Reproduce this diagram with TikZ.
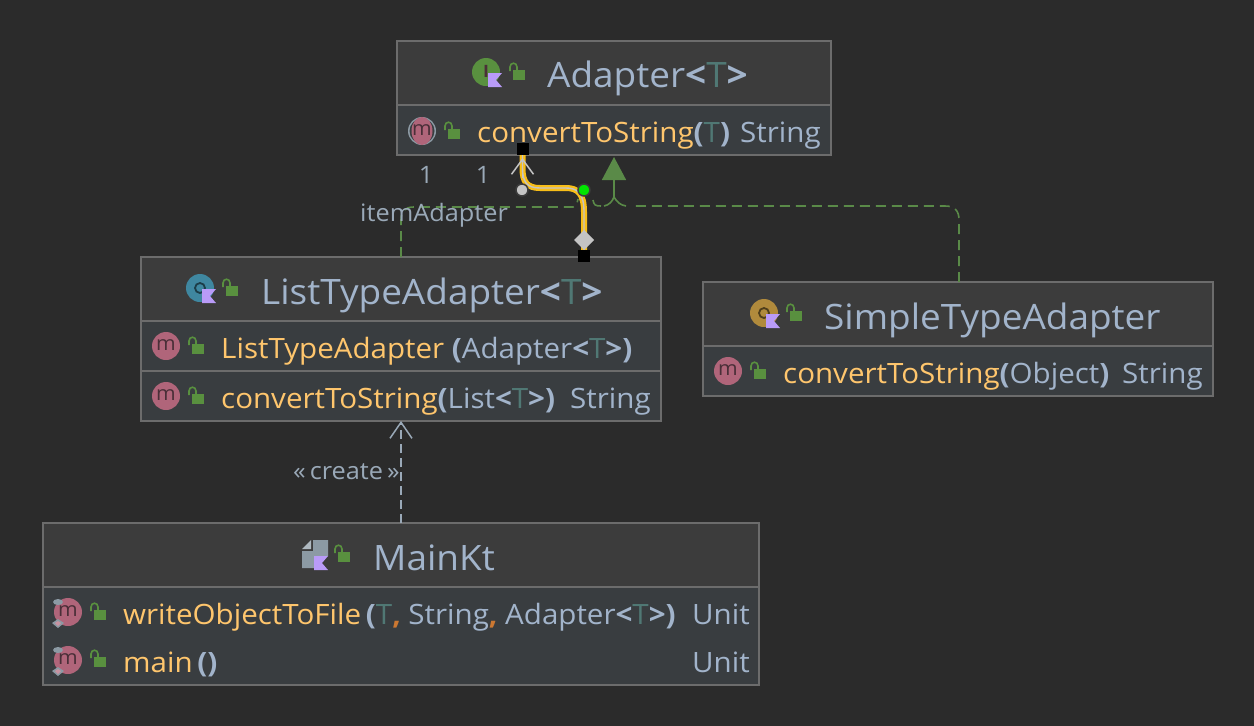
\documentclass[tikz,border=0pt]{standalone}
\usepackage{fontspec}
\setmainfont[FakeStretch=1.055]{Open Sans}
\usetikzlibrary{arrows.meta,positioning}
\definecolor{CanvasGray}{HTML}{2B2B2B}
\definecolor{HeadGray}{HTML}{3C3C3C}
\definecolor{RowGray}{HTML}{393D40}
\definecolor{EdgeGray}{HTML}{6C6C6C}
\definecolor{TitleBlue}{HTML}{A2B4CB}
\definecolor{MethodYellow}{HTML}{FFC66D}
\definecolor{ParamTeal}{HTML}{507874}
\definecolor{CommaOrange}{HTML}{CC7832}
\definecolor{LockGreen}{HTML}{59903F}
\definecolor{ImplGreen}{HTML}{5A8A48}
\definecolor{FlagPurple}{HTML}{B99BF8}
\definecolor{MethodPink}{HTML}{B0657A}
\definecolor{MarkDark}{HTML}{4A2F38}
\definecolor{WingGray}{HTML}{8C9AA4}
\definecolor{ClassBlue}{HTML}{3F87A0}
\definecolor{AbstractGold}{HTML}{B08A3C}
\definecolor{HiYellow}{HTML}{F8BE18}
\definecolor{CoreGray}{HTML}{C4C4C4}
\definecolor{LabelGray}{HTML}{9AA9B8}
\newcommand{\mth}[1]{{\color{MethodYellow}#1}}
\newcommand{\pun}[1]{{\bfseries\color{TitleBlue}#1}}
\newcommand{\tpar}{{\color{ParamTeal}T}}
\newcommand{\cma}{{\bfseries\color{CommaOrange},}}
\tikzset{
  headbox/.style={draw=EdgeGray,fill=HeadGray,line width=1.5pt,outer sep=0pt,inner sep=0pt},
  rowbox/.style={draw=EdgeGray,fill=RowGray,line width=1.5pt,outer sep=0pt,inner sep=0pt},
  titletext/.style={anchor=base west,inner sep=0pt,text=TitleBlue,font=\fontsize{35}{40}\selectfont},
  rowtext/.style={anchor=base west,inner sep=0pt,text=TitleBlue,font=\fontsize{28}{32}\selectfont},
  edgetext/.style={anchor=base west,inner sep=0pt,text=LabelGray,font=\fontsize{24}{28}\selectfont},
  implline/.style={ImplGreen,line width=1.6pt,dash pattern=on 10pt off 6pt},
  implcurve/.style={ImplGreen,line width=1.6pt},
  createline/.style={LabelGray,line width=1.5pt,dash pattern=on 9pt off 5pt,-{Straight Barb[length=16pt,width=22pt]}},
  assocline/.style={CoreGray,line width=1.4pt,preaction={draw=HiYellow,line width=6pt}},
  handlebox/.style={fill=black,minimum size=12pt,inner sep=0pt,outer sep=0pt},
  dotmark/.style={circle,draw=HeadGray,line width=1.5pt,minimum size=12pt,inner sep=0pt},
  pics/lockicon/.style={code={
    \fill[LockGreen] (0,0) rectangle (12,10);
    \draw[LockGreen,line width=1.6pt] (-3,1) -- (-3,-3) .. controls (-3,-8) and (4,-8) .. (4,-3) -- (4,0);
  }},
  pics/flagicon/.style={code={
    \fill[FlagPurple] (2,1) -- (16,1) -- (10,8) -- (16,15) -- (2,15) -- cycle;
  }},
  pics/classicon/.style={code={
    \fill[#1] (0,0) circle (14);
    \draw[#1!45!black,line width=1.8pt] (0,0) circle (5);
  }},
  pics/methodicon/.style={code={
    \fill[MethodPink] (0,0) circle (14);
    \node[text=MarkDark,inner sep=0pt,font=\fontsize{20}{20}\selectfont] (mark) at (0,-1) {m};
  }},
  pics/abstracticon/.style={code={
    \fill[WingGray] (0,0) circle (14);
    \fill[RowGray] (0,0) circle (12.5);
    \fill[MethodPink] (0,0) ellipse (10.5 and 14);
    \node[text=MarkDark,inner sep=0pt,font=\fontsize{20}{20}\selectfont] (mark) at (0,-1) {m};
  }},
  pics/staticicon/.style={code={
    \fill[MethodPink] (1,0) circle (14);
    \fill[WingGray] (-9,-10) ellipse (5 and 3);
    \fill[WingGray] (-9,7) -- (-3,11) -- (-9,16) -- (-15,11) -- cycle;
    \fill[MethodPink!70] (-9,9) -- (-6,11) -- (-9,14) -- (-12,11) -- cycle;
    \node[text=MarkDark,inner sep=0pt,font=\fontsize{20}{20}\selectfont] (mark) at (1,-1) {m};
  }},
}
\begin{document}
\begin{tikzpicture}[x=1pt,y=-1pt]
  \fill[CanvasGray] (0,0) rectangle (1254,726);
  \node[headbox,anchor=north west,minimum width=434pt,minimum height=64pt] (adapterHead) at (397,41) {};
  \node[rowbox,minimum width=434pt,minimum height=50pt,below=0pt of adapterHead] (adapterRow) {};
  \node[headbox,anchor=north west,minimum width=520pt,minimum height=64pt] (listHead) at (141,257) {};
  \node[rowbox,minimum width=520pt,minimum height=50pt,below=0pt of listHead] (listCtor) {};
  \node[rowbox,minimum width=520pt,minimum height=50pt,below=0pt of listCtor] (listRow) {};
  \node[headbox,anchor=north west,minimum width=510pt,minimum height=64pt] (simpleHead) at (703,282) {};
  \node[rowbox,minimum width=510pt,minimum height=50pt,below=0pt of simpleHead] (simpleRow) {};
  \node[headbox,anchor=north west,minimum width=716pt,minimum height=64pt] (mainHead) at (43,523) {};
  \node[rowbox,minimum width=716pt,minimum height=98pt,below=0pt of mainHead] (mainRow) {};

  \node[titletext] (adapterTitle) at (547,87) {Adapter\pun{<}\tpar\pun{>}};
  \node[rowtext] (adapterMethod) at (477,142) {\mth{convertToString}\pun{(}\tpar\pun{)}};
  \node[rowtext] (adapterType) at (740,142) {String};
  \node[titletext] (listTitle) at (261,304) {ListTypeAdapter\pun{<}\tpar\pun{>}};
  \node[rowtext] (listCtorText) at (221,358) {\mth{ListTypeAdapter} \pun{(}Adapter\pun{<}\tpar\pun{>}\pun{)}};
  \node[rowtext] (listMethod) at (221,408) {\mth{convertToString}\pun{(}List\pun{<}\tpar\pun{>}\pun{)}};
  \node[rowtext] (listType) at (570,408) {String};
  \node[titletext] (simpleTitle) at (824,329) {SimpleTypeAdapter};
  \node[rowtext] (simpleMethod) at (783,383) {\mth{convertToString}\pun{(}Object\pun{)}};
  \node[rowtext] (simpleType) at (1122,383) {String};
  \node[titletext] (mainTitle) at (373,570) {MainKt};
  \node[rowtext] (writeMethod) at (123,624) {\mth{writeObjectToFile}\,\pun{(}\tpar\cma{} String\cma{} Adapter\pun{<}\tpar\pun{>}\pun{)}};
  \node[rowtext] (writeType) at (692,624) {Unit};
  \node[rowtext] (mainMethod) at (123,672) {\mth{main}\,\pun{()}};
  \node[rowtext] (mainType) at (692,672) {Unit};

  \fill[LockGreen] (486,72) circle (14);
  \node[text=MarkDark,inner sep=0pt,font=\fontsize{17}{17}\bfseries\selectfont] (adapterMark) at (486,71) {I};
  \pic at (486,72) {flagicon};
  \pic at (200,288) {classicon=ClassBlue};
  \pic at (200,288) {flagicon};
  \pic at (764,313) {classicon=AbstractGold};
  \pic at (764,313) {flagicon};
  \fill[WingGray!70] (302,549) -- (311,540) -- (311,549) -- cycle;
  \fill[WingGray] (313,540) -- (328,540) -- (328,556) -- (314,556) -- (314,568) -- (302,568) -- (302,551) -- (313,551) -- cycle;
  \pic at (312,555) {flagicon};

  \pic at (513,70) {lockicon};
  \pic at (448,129) {lockicon};
  \pic at (226,286) {lockicon};
  \pic at (192,344) {lockicon};
  \pic at (192,394) {lockicon};
  \pic at (790,311) {lockicon};
  \pic at (754,369) {lockicon};
  \pic at (338,552) {lockicon};
  \pic at (94,610) {lockicon};
  \pic at (94,657) {lockicon};

  \pic at (422,131) {abstracticon};
  \pic at (166,346) {methodicon};
  \pic at (166,396) {methodicon};
  \pic at (728,371) {methodicon};
  \pic at (67,612) {staticicon};
  \pic at (67,660) {staticicon};

  \coordinate (implLeft) at (401,230);
  \coordinate (implRight) at (959,230);
  \coordinate (implJoin) at (614,197);
  \draw[implline] (listHead.north -| implLeft) -- (401,220) .. controls (401,211) and (405,207) .. (414,207) -- (573,207) .. controls (576,207) and (577,204) .. (578,199);
  \draw[implcurve] (593,200) .. controls (594,205) and (595,206) .. (601,206);
  \draw[implcurve] (604,206) .. controls (609,205) and (612,202) .. (implJoin);
  \draw[implline] (simpleHead.north -| implRight) -- (959,220) .. controls (959,211) and (955,206) .. (945,206) -- (632,206);
  \draw[implcurve] (626,206) .. controls (620,205) and (617,202) .. (implJoin);
  \draw[implcurve,-{Triangle[length=23pt,width=24pt]},shorten >=2pt] (implJoin) -- (adapterRow.south -| implJoin);

  \node[handlebox] (srcHandle) at (584,256) {};
  \node[handlebox] (dstHandle) at (522.5,149) {};
  \draw[assocline] (srcHandle.center) -- (584,212) .. controls (584,194) and (578,188) .. (566,188) -- (540,188) .. controls (527,188) and (522.5,182) .. (522.5,168) -- (dstHandle.center);
  \fill[CoreGray] (584,230) -- (594,240) -- (584,250) -- (574,240) -- cycle;
  \coordinate (wingBase) at (522.5,178);
  \draw[CoreGray,line width=1.5pt,-{Straight Barb[length=15pt,width=22pt]},shorten >=3pt] (wingBase) -- (dstHandle.south);
  \node[handlebox] at (srcHandle) {};
  \node[handlebox] at (dstHandle) {};
  \node[dotmark,fill=CoreGray] (srcDot) at (522,190) {};
  \node[dotmark,fill=green!90!black] (greenDot) at (584,190) {};

  \draw[createline] (mainHead.north -| implLeft) -- (listRow.south -| implLeft);

  \node[edgetext] (createLabel) at (293,479) {«\,create\,»};
  \node[edgetext,anchor=base] (countLeft) at (426,183) {1};
  \node[edgetext,anchor=base] (countRight) at (483,183) {1};
  \node[edgetext] (itemLabel) at (360,221) {itemAdapter};
\end{tikzpicture}
\end{document}
